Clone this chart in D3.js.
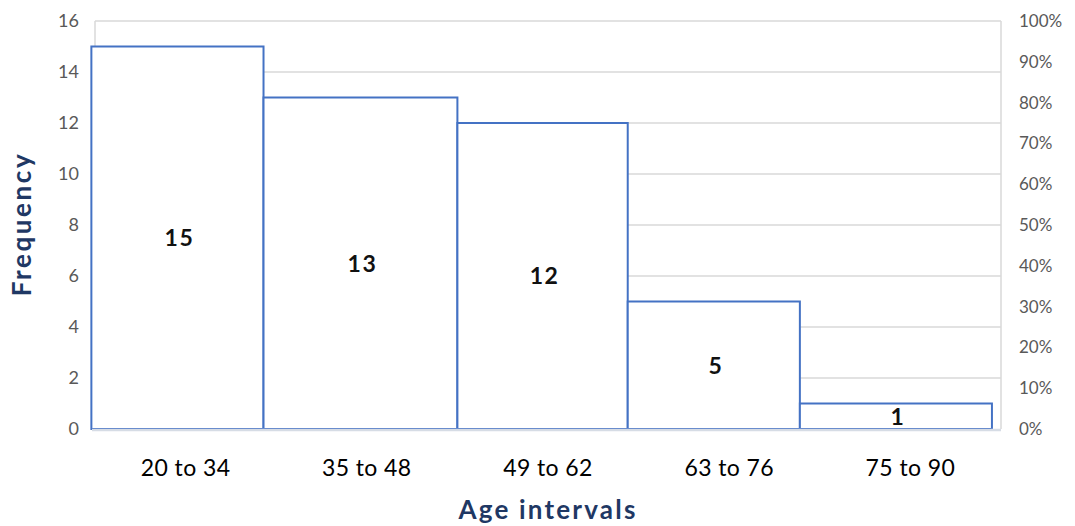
<!DOCTYPE html>
<html>
<head>
<meta charset="utf-8">
<script src="https://cdn.jsdelivr.net/npm/d3@7"></script>
<style>
  html, body { margin: 0; padding: 0; background: #fff; }
  svg { display: block; font-family: Lato, "Open Sans", sans-serif; }
</style>
</head>
<body>
<svg id="chart" width="1075" height="526"></svg>
<script>
// Age classes and their counts
const categories = ["20 to 34", "35 to 48", "49 to 62", "63 to 76", "75 to 90"];
const frequencies = [15, 13, 12, 5, 1];
// Class boundaries along the category axis (in category slots)
const binEdges = [-0.02, 0.93, 2.0, 2.94, 3.89, 4.95];
// Axis ticks
const freqTicks = [0, 2, 4, 6, 8, 10, 12, 14, 16];
const pctTicks = [0, 0.1, 0.2, 0.3, 0.4, 0.5, 0.6, 0.7, 0.8, 0.9, 1.0];

const svg = d3.select("#chart");
const plot = { left: 95, right: 1001, top: 21, bottom: 429 };

const xBand = d3.scaleBand().domain(categories).range([plot.left, plot.right]).paddingInner(0);
const xSlot = d3.scaleLinear().domain([0, categories.length]).range([plot.left, plot.right]);
const y = d3.scaleLinear().domain([0, 16]).range([plot.bottom, plot.top]);
const yPct = d3.scaleLinear().domain([0, 1]).range([plot.bottom, plot.top]);

// Horizontal gridlines
svg.append("g")
  .selectAll("line")
  .data(freqTicks.filter(d => d > 0))
  .join("line")
  .attr("x1", plot.left).attr("x2", plot.right)
  .attr("y1", d => y(d)).attr("y2", d => y(d))
  .attr("stroke", "#d9d9d9").attr("stroke-width", 1.5);

// Left and right axis lines
svg.append("line")
  .attr("x1", plot.left).attr("x2", plot.left)
  .attr("y1", plot.top).attr("y2", plot.bottom)
  .attr("stroke", "#d9d9d9").attr("stroke-width", 1.5);
svg.append("line")
  .attr("x1", plot.right).attr("x2", plot.right)
  .attr("y1", plot.top).attr("y2", plot.bottom)
  .attr("stroke", "#d9d9d9").attr("stroke-width", 1.5);

// Histogram bars
const bars = categories.map((c, i) => ({
  cat: c, value: frequencies[i], x0: binEdges[i], x1: binEdges[i + 1]
}));

svg.append("g")
  .selectAll("rect")
  .data(bars)
  .join("rect")
  .attr("x", d => xSlot(d.x0))
  .attr("width", d => xSlot(d.x1) - xSlot(d.x0))
  .attr("y", d => y(d.value))
  .attr("height", d => y(0) - y(d.value))
  .attr("fill", "#fff")
  .attr("stroke", "#4472c4")
  .attr("stroke-width", 2);

// Baseline
svg.append("line")
  .attr("x1", plot.left - 3).attr("x2", plot.right)
  .attr("y1", plot.bottom + 1).attr("y2", plot.bottom + 1)
  .attr("stroke", "#d6dce5").attr("stroke-width", 2.5);

// Value labels inside the bars
svg.append("g")
  .selectAll("text")
  .data(bars)
  .join("text")
  .attr("x", d => (xSlot(d.x0) + xSlot(d.x1)) / 2 + 2)
  .attr("y", d => (y(d.value) + y(0)) / 2)
  .attr("dy", "0.36em")
  .attr("text-anchor", "middle")
  .attr("font-size", 23)
  .attr("font-weight", 700)
  .attr("letter-spacing", 1.5)
  .attr("fill", "#111")
  .text(d => d.value);

// Left axis (frequency)
const yAxis = d3.axisLeft(y).tickValues(freqTicks).tickSize(0).tickPadding(0);
svg.append("g")
  .attr("transform", `translate(${plot.left - 16},0)`)
  .call(yAxis)
  .call(g => g.select(".domain").remove())
  .selectAll("text")
  .attr("font-family", "Lato, sans-serif")
  .attr("font-size", 18)
  .attr("fill", "#595959");

// Right axis (percentage)
const pctAxis = d3.axisRight(yPct).tickValues(pctTicks).tickFormat(d3.format(".0%")).tickSize(0).tickPadding(0);
svg.append("g")
  .attr("transform", `translate(${plot.right + 18},0)`)
  .call(pctAxis)
  .call(g => g.select(".domain").remove())
  .selectAll("text")
  .attr("font-family", "Lato, sans-serif")
  .attr("font-size", 17)
  .attr("fill", "#595959");

// Category axis labels
const xAxis = d3.axisBottom(xBand).tickSize(0).tickPadding(0);
svg.append("g")
  .attr("transform", `translate(0,${plot.bottom + 31})`)
  .call(xAxis)
  .call(g => g.select(".domain").remove())
  .selectAll("text")
  .attr("font-family", "Lato, sans-serif")
  .attr("font-size", 23)
  .attr("letter-spacing", 0.4)
  .attr("fill", "#000");

// Axis titles
svg.append("text")
  .attr("transform", `translate(31,${(plot.top + plot.bottom) / 2 - 1}) rotate(-90)`)
  .attr("text-anchor", "middle")
  .attr("font-size", 26)
  .attr("font-weight", 700)
  .attr("letter-spacing", 2.6)
  .attr("fill", "#1f3864")
  .text("Frequency");

svg.append("text")
  .attr("x", 548)
  .attr("y", 519)
  .attr("text-anchor", "middle")
  .attr("font-size", 26)
  .attr("font-weight", 700)
  .attr("letter-spacing", 2.2)
  .attr("fill", "#1f3864")
  .text("Age intervals");
</script>
</body>
</html>
